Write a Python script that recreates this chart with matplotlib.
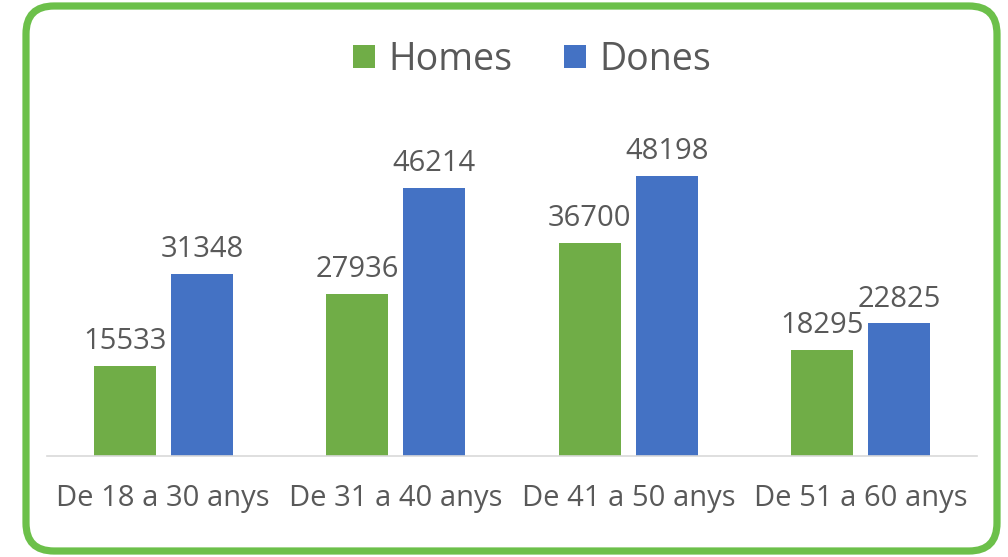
import matplotlib.pyplot as plt
import numpy as np
from matplotlib.patches import FancyBboxPatch

# dades
categories = ["De 18 a 30 anys", "De 31 a 40 anys", "De 41 a 50 anys", "De 51 a 60 anys"]
homes = [15533, 27936, 36700, 18295]
dones = [31348, 46214, 48198, 22825]

GREEN = "#70AD47"
BLUE = "#4472C4"
TEXT = "#595959"

plt.rcParams['font.family'] = ['Open Sans', 'DejaVu Sans']

fig = plt.figure(figsize=(10.08, 5.57), dpi=100)
W, H = 1008, 557

# fons amb el marc arrodonit verd (en píxels)
bg = fig.add_axes([0, 0, 1, 1], zorder=-1)
bg.set_xlim(0, W)
bg.set_ylim(0, H)
bg.axis("off")
bg.add_patch(FancyBboxPatch((26, 6), 997 - 26, 551 - 6,
                            boxstyle="round,pad=0,rounding_size=28",
                            facecolor="white", edgecolor="#6CC04A", linewidth=5.2))

ax = fig.add_axes([47 / W, 1 - 456 / H, (977 - 47) / W, 356 / H])
ax.set_facecolor("none")

x = np.arange(len(categories))
bw = 0.267
off = (bw + 0.065) / 2
b1 = ax.bar(x - off, homes, bw, color=GREEN, label="Homes")
b2 = ax.bar(x + off, dones, bw, color=BLUE, label="Dones")

for bars in (b1, b2):
    for b in bars:
        ax.annotate(str(int(b.get_height())), (b.get_x() + b.get_width() / 2, b.get_height()),
                    xytext=(0, 7), textcoords="offset points", ha="center", va="bottom",
                    fontsize=21, color=TEXT)

ax.set_xlim(-0.5, 3.5)
ax.set_ylim(0, 61280)
ax.set_yticks([])
ax.set_xticks(x)
ax.set_xticklabels(categories, fontsize=21, color=TEXT)
ax.tick_params(axis="x", length=0, pad=20)
for s in ["top", "right", "left"]:
    ax.spines[s].set_visible(False)
ax.spines["bottom"].set_color("#D9D9D9")
ax.spines["bottom"].set_linewidth(1.2)

leg = fig.legend(loc="center", bbox_to_anchor=(532 / W, 1 - 60 / H), ncol=2, frameon=False,
                 fontsize=27, labelcolor=TEXT, handlelength=0.58, handleheight=0.58,
                 columnspacing=1.4, handletextpad=0.35)

fig.savefig("out.png", dpi=100)
